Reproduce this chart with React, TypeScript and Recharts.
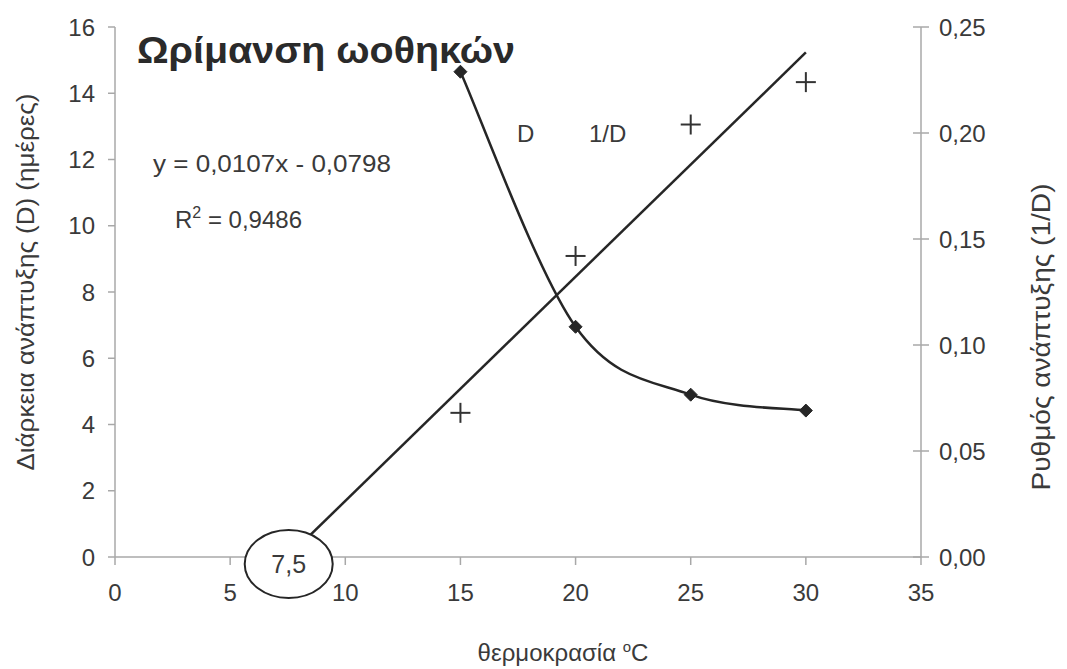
import React from 'react';
import { ComposedChart, Line, Scatter, XAxis, YAxis, ReferenceDot, Customized } from 'recharts';

const tempTicks = [0, 5, 10, 15, 20, 25, 30, 35];
const durationTicks = [0, 2, 4, 6, 8, 10, 12, 14, 16];
const rateTicks = [0, 0.05, 0.1, 0.15, 0.2, 0.25];

const temperatures = [15, 20, 25, 30];
const duration = [14.65, 6.95, 4.9, 4.42];
const rate = [0.068, 0.142, 0.204, 0.224];

const trendX = [7.5, 30];
const trendY = [0.0, 0.238];

const durationData = temperatures.map((x, i) => ({ x, d: duration[i] }));
const rateData = temperatures.map((x, i) => ({ x, r: rate[i] }));
const trendData = trendX.map((x, i) => ({ x, t: trendY[i] }));

const FONT = '"Liberation Sans", Arial, sans-serif';
const TXT = '#3a3a3a';
const AXIS = '#a8a8a8';
const INK = '#262626';

// Spreadsheet-style smoothed line (Catmull-Rom-like Bezier)
const smoothCurve = (context: any) => {
  let pts: number[][] = [];
  return {
    areaStart() {},
    areaEnd() {},
    lineStart() {
      pts = [];
    },
    point(x: number, y: number) {
      pts.push([+x, +y]);
    },
    lineEnd() {
      const n = pts.length;
      if (!n) return;
      context.moveTo(pts[0][0], pts[0][1]);
      for (let i = 0; i < n - 1; i++) {
        const p0 = pts[Math.max(0, i - 1)];
        const p1 = pts[i];
        const p2 = pts[i + 1];
        const p3 = pts[Math.min(n - 1, i + 2)];
        const c1x = p1[0] + (p2[0] - p0[0]) / 6;
        const c1y = p1[1] + (p2[1] - p0[1]) / 6;
        const c2x = p2[0] - (p3[0] - p1[0]) / 6;
        const c2y = p2[1] - (p3[1] - p1[1]) / 6;
        context.bezierCurveTo(c1x, c1y, c2x, c2y, p2[0], p2[1]);
      }
    },
  };
};

const Diamond = (props: any) => {
  const { cx, cy } = props;
  if (cx == null || cy == null) return null;
  const s = 6.5;
  return <path d={`M${cx},${cy - s}L${cx + s},${cy}L${cx},${cy + s}L${cx - s},${cy}Z`} fill={INK} stroke={INK} strokeWidth={1} />;
};

const Cross = (props: any) => {
  const { cx, cy } = props;
  if (cx == null || cy == null) return null;
  const s = 10;
  return (
    <g stroke="#333" strokeWidth={2}>
      <line x1={cx - s} y1={cy} x2={cx + s} y2={cy} />
      <line x1={cx} y1={cy - s} x2={cx} y2={cy + s} />
    </g>
  );
};

const RightTick = (props: any) => {
  const { x, y, payload } = props;
  return (
    <g>
      <line x1={x - 26} y1={y} x2={x - 10} y2={y} stroke={AXIS} strokeWidth={1.5} />
      <text x={x} y={y} dy="0.36em" textAnchor="start" fill={TXT} fontSize={24} fontFamily={FONT}>
        {Number(payload.value).toFixed(2).replace('.', ',')}
      </text>
    </g>
  );
};

const EllipseMark = (props: any) => {
  const { cx, cy } = props;
  if (cx == null || cy == null) return null;
  const c = cy + 7;
  return (
    <g>
      <ellipse cx={cx + 1} cy={c} rx={44} ry={34} fill="#ffffff" stroke={INK} strokeWidth={2} />
      <text x={cx + 1} y={c} dy="0.36em" textAnchor="middle" fill={TXT} fontSize={25} fontFamily={FONT}>7,5</text>
    </g>
  );
};

const Annotations = () => (
  <g fontFamily={FONT} fill={TXT}>
    <text x={137} y={63} fontSize={36} fontWeight="bold" fill="#2a2a2a" textLength={378} lengthAdjust="spacingAndGlyphs">Ωρίμανση ωοθηκών</text>
    <text x={153} y={172} fontSize={24} textLength={238} lengthAdjust="spacingAndGlyphs">y = 0,0107x - 0,0798</text>
    <text x={175} y={228} fontSize={24}>
      R<tspan dy={-10} fontSize={16}>2</tspan><tspan dy={10}> = 0,9486</tspan>
    </text>
    <text x={517} y={142} fontSize={24}>D</text>
    <text x={589} y={142} fontSize={24}>1/D</text>
    <text x={563} y={661} fontSize={24} textAnchor="middle">
      θερμοκρασία <tspan dy={-9} fontSize={15}>o</tspan><tspan dy={9}>C</tspan>
    </text>
    <text transform="translate(34,282) rotate(-90)" fontSize={23} textAnchor="middle" textLength={377} lengthAdjust="spacingAndGlyphs">Διάρκεια ανάπτυξης (D) (ημέρες)</text>
    <text transform="translate(1050,337) rotate(-90)" fontSize={25} textAnchor="middle" textLength={307} lengthAdjust="spacingAndGlyphs">Ρυθμός ανάπτυξης (1/D)</text>
  </g>
);

export default function App() {
  return (
    <div style={{ position: 'absolute', left: 0, top: 0, width: 1067, height: 669, background: '#ffffff' }}>
      <ComposedChart width={1067} height={669} margin={{ top: 27, right: 66, bottom: 52, left: 55 }}>
        <XAxis
          xAxisId="x"
          type="number"
          dataKey="x"
          domain={[0, 35]}
          ticks={tempTicks}
          allowDataOverflow
          height={60}
          stroke={AXIS}
          tickSize={8}
          tickMargin={19}
          tick={{ fill: TXT, fontSize: 24, fontFamily: FONT }}
          axisLine={{ stroke: AXIS, strokeWidth: 1.5 }}
          tickLine={{ stroke: AXIS, strokeWidth: 1.5 }}
        />
        <YAxis
          yAxisId="left"
          orientation="left"
          domain={[0, 16]}
          ticks={durationTicks}
          width={60}
          tickSize={7}
          tickMargin={13}
          tick={{ fill: TXT, fontSize: 24, fontFamily: FONT }}
          axisLine={{ stroke: AXIS, strokeWidth: 1.5 }}
          tickLine={{ stroke: AXIS, strokeWidth: 1.5 }}
        />
        <YAxis
          yAxisId="right"
          orientation="right"
          domain={[0, 0.25]}
          ticks={rateTicks}
          allowDataOverflow
          width={80}
          tickSize={8}
          tickMargin={10}
          tick={<RightTick />}
          tickLine={false}
          axisLine={{ stroke: AXIS, strokeWidth: 1.5 }}
        />
        <Line
          xAxisId="x"
          yAxisId="right"
          data={trendData}
          dataKey="t"
          type="linear"
          stroke={INK}
          strokeWidth={2.5}
          dot={false}
          activeDot={false}
          isAnimationActive={false}
        />
        <Line
          xAxisId="x"
          yAxisId="left"
          data={durationData}
          dataKey="d"
          type={smoothCurve as any}
          stroke={INK}
          strokeWidth={2.5}
          dot={<Diamond />}
          activeDot={false}
          isAnimationActive={false}
        />
        <Scatter
          xAxisId="x"
          yAxisId="right"
          data={rateData}
          dataKey="r"
          shape={<Cross />}
          isAnimationActive={false}
        />
        <ReferenceDot xAxisId="x" yAxisId="right" x={7.5} y={0} ifOverflow="visible" shape={<EllipseMark />} />
        <Customized component={<Annotations />} />
      </ComposedChart>
    </div>
  );
}
